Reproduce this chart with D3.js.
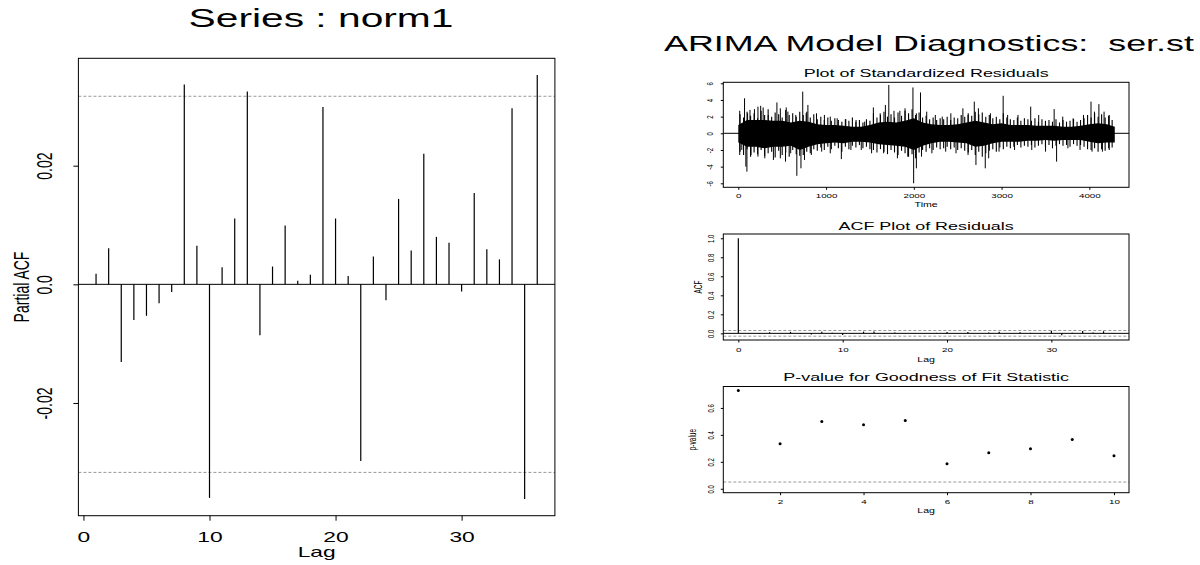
<!DOCTYPE html>
<html>
<head>
<meta charset="utf-8">
<script src="https://cdn.jsdelivr.net/npm/d3@7"></script>
<style>
body { margin: 0; background: #fff; }
svg text { font-family: "Liberation Sans", Arial, Helvetica, sans-serif; fill: #000; }
</style>
</head>
<body>
<svg id="chart" width="1200" height="565"></svg>
<script>
// ---- data ----
var pacfLags = [1, 2, 3, 4, 5, 6, 7, 8, 9, 10, 11, 12, 13, 14, 15, 16, 17, 18,
    19, 20, 21, 22, 23, 24, 25, 26, 27, 28, 29, 30, 31, 32, 33, 34, 35, 36];
var pacfValues = [0.0018, 0.0061, -0.0131, -0.0060, -0.0053, -0.0032, -0.0013, 0.0337, 0.0065,
    -0.0360, 0.0029, 0.0111, 0.0325, -0.0086, 0.0030, 0.0099, 0.0006, 0.0016,
    0.0299, 0.0111, 0.0014, -0.0298, 0.0047, -0.0027, 0.0144, 0.0057, 0.0220,
    0.0080, 0.0070, -0.0012, 0.0154, 0.0059, 0.0042, 0.0297, -0.0362, 0.0353];
var pacfBound = 0.0317;
var pacfXTicks = [0, 10, 20, 30];
var pacfYTicks = [-0.02, 0, 0.02];

// standardized residuals (about 4290 points, too dense to read one by one):
// solid core band every 100 steps, fringe highs/lows every 40 steps, and the big spikes
var residBandTime = [0, 100, 200, 300, 400, 500, 600, 700, 800, 900, 1000, 1100, 1200, 1300, 1400,
    1500, 1600, 1700, 1800, 1900, 2000, 2100, 2200, 2300, 2400, 2500, 2600, 2700, 2800, 2900,
    3000, 3100, 3200, 3300, 3400, 3500, 3600, 3700, 3800, 3900, 4000, 4100, 4200, 4290];
var residBandHi = [1.0, 1.6, 1.6, 1.6, 1.5, 1.5, 1.3, 1.5, 1.4, 1.1, 1.0, 1.0, 0.9, 0.8, 0.8,
    1.0, 1.3, 1.4, 1.3, 1.5, 1.8, 1.3, 1.1, 1.0, 1.0, 1.1, 1.3, 1.5, 1.3, 1.1,
    1.2, 1.0, 1.0, 1.0, 0.9, 0.9, 0.9, 0.8, 0.8, 0.9, 1.1, 1.2, 1.1, 0.8];
var residBandLo = [-1.1, -1.6, -1.6, -1.8, -1.6, -1.6, -1.5, -2.0, -1.6, -1.3, -1.2, -1.1, -1.2, -1.0, -1.0,
    -1.1, -1.3, -1.4, -1.5, -1.6, -2.0, -1.5, -1.2, -1.0, -1.0, -1.1, -1.2, -1.6, -1.5, -1.2,
    -1.0, -1.0, -1.0, -0.9, -0.9, -0.8, -0.9, -0.8, -0.8, -0.8, -1.0, -1.2, -1.1, -1.1];
var residFringeTime = [20, 60, 100, 140, 180, 220, 260, 300, 340, 380, 420, 460, 500, 540, 580, 620, 660, 700,
    740, 780, 820, 860, 900, 940, 980, 1020, 1060, 1100, 1140, 1180, 1220, 1260, 1300, 1340, 1380, 1420, 1460, 1500,
    1540, 1580, 1620, 1660, 1700, 1740, 1780, 1820, 1860, 1900, 1940, 1980, 2020, 2060, 2100, 2140, 2180, 2220, 2260, 2300,
    2340, 2380, 2420, 2460, 2500, 2540, 2580, 2620, 2660, 2700, 2740, 2780, 2820, 2860, 2900, 2940, 2980, 3020, 3060, 3100,
    3140, 3180, 3220, 3260, 3300, 3340, 3380, 3420, 3460, 3500, 3540, 3580, 3620, 3660, 3700, 3740, 3780, 3820, 3860, 3900,
    3940, 3980, 4020, 4060, 4100, 4140, 4180, 4220, 4260];
var residFringeHi = [2.3, 1.9, 2.6, 2.1, 2.4, 1.8, 2.7, 2.2, 2.9, 2.0, 2.5, 2.3, 1.9, 2.8, 2.2, 2.4, 2.0, 2.6,
    2.2, 2.6, 1.9, 2.3, 1.7, 2.0, 1.6, 1.9, 1.5, 1.8, 1.6, 1.4, 1.7, 1.5, 1.9, 1.4, 1.6, 1.3, 1.7, 1.5,
    2.4, 1.9, 2.2, 2.6, 2.0, 2.3, 1.9, 2.5, 2.1, 2.7, 2.4, 2.9, 2.2, 2.5, 1.9, 2.1, 1.7, 1.9, 1.6, 1.8,
    1.7, 2.0, 1.6, 1.9, 1.8, 2.2, 2.0, 2.4, 2.1, 2.6, 2.3, 2.5, 2.0, 2.2, 1.8, 2.0, 1.7, 2.4, 1.9, 1.7,
    1.6, 1.9, 1.5, 1.8, 1.7, 1.5, 1.8, 1.4, 1.7, 1.5, 1.6, 1.4, 1.7, 1.3, 1.6, 1.4, 1.5, 1.7, 1.4, 1.6,
    1.8, 2.2, 1.9, 2.4, 2.0, 2.3, 1.9, 2.1, 1.6];
var residFringeLo = [-2.2, -2.6, -1.9, -2.8, -2.3, -2.5, -2.0, -2.7, -2.4, -2.2, -2.9, -2.1, -2.6, -2.3, -2.8, -2.0, -2.5, -2.7,
    -2.6, -2.2, -2.4, -1.9, -2.1, -1.7, -2.0, -1.6, -1.9, -1.5, -1.8, -2.2, -1.6, -1.9, -1.5, -1.7, -1.4, -1.8, -1.6, -1.9,
    -2.0, -2.3, -1.9, -2.2, -2.5, -2.0, -2.3, -2.6, -2.1, -2.4, -2.8, -2.5, -3.0, -2.3, -2.0, -2.2, -1.8, -2.0, -1.7, -1.9,
    -1.8, -1.6, -1.9, -1.7, -2.0, -1.8, -2.1, -2.3, -2.0, -2.6, -2.2, -2.8, -2.4, -2.1, -1.9, -2.2, -1.7, -1.9, -1.6, -1.8,
    -1.6, -1.4, -1.7, -1.5, -1.6, -1.4, -1.7, -1.5, -1.3, -1.6, -1.4, -1.8, -1.5, -1.3, -1.5, -1.4, -1.6, -1.3, -1.5, -1.4,
    -1.6, -1.9, -2.0, -1.8, -2.2, -1.9, -2.1, -1.8, -1.7];
var residSpikeTime = [16, 71, 106, 133, 184, 224, 255, 283, 341, 440, 479, 546, 565, 655, 734, 773,
    793, 891, 981, 1048, 1127, 1225, 1342, 1440, 1539, 1617, 1676, 1715, 1774, 1841, 1900, 1990,
    2029, 2076, 2147, 2245, 2324, 2422, 2559, 2618, 2689, 2736, 2873, 3018, 3069, 3187, 3332,
    3423, 3599, 3697, 3815, 3933, 4019, 4058, 4109, 4168, 4227,
    16, 40, 86, 98, 145, 224, 302, 400, 479, 538, 597, 667, 714, 754, 832, 950, 1048, 1174,
    1283, 1401, 1519, 1656, 1813, 1931, 1998, 2029, 2088, 2206, 2363, 2481, 2618, 2708, 2814,
    2853, 2971, 3148, 3344, 3501, 3627, 3756, 3894, 4031, 4149, 4227];
var residSpikeValue = [2.7, 4.2, 2.4, 2.8, 2.9, 3.2, 3.3, 3.1, 2.2, 3.7, 3.0, 3.1, 2.6, 2.2, 5.0, 2.4,
    3.4, 2.4, 2.2, 2.0, 1.8, 1.7, 1.6, 1.4, 3.1, 2.4, 3.4, 5.8, 2.7, 2.7, 3.0, 5.5,
    2.4, 4.9, 2.6, 2.2, 2.0, 2.4, 3.0, 2.2, 3.8, 3.0, 2.4, 4.5, 2.2, 2.2, 3.2,
    2.2, 2.9, 2.0, 1.8, 2.2, 3.8, 2.6, 3.5, 2.6, 2.2,
    -2.6, -2.0, -4.0, -4.6, -2.6, -2.8, -3.0, -3.2, -3.0, -3.4, -2.4, -5.1, -4.2, -3.2, -2.6, -2.2, -2.4, -3.1,
    -2.0, -2.0, -2.4, -2.4, -3.0, -2.8, -6.0, -4.2, -2.8, -2.4, -2.2, -2.4, -2.6, -3.8, -4.2,
    -3.0, -2.2, -2.0, -2.0, -2.2, -3.4, -1.8, -2.0, -2.2, -2.2, -2.0];
var residXTicks = [0, 1000, 2000, 3000, 4000];
var residYTicks = [-6, -4, -2, 0, 2, 4, 6];

var acfLags = [0, 1, 2, 3, 4, 5, 6, 7, 8, 9, 10, 11, 12, 13, 14, 15, 16, 17, 18,
    19, 20, 21, 22, 23, 24, 25, 26, 27, 28, 29, 30, 31, 32, 33, 34, 35, 36];
var acfValues = [1, 0.003, -0.005, 0.012, 0.004, 0.015, -0.004, -0.013, 0.016, 0.006, -0.018,
    0.003, 0.018, 0.019, -0.003, 0.008, 0.004, -0.004, 0.002, 0.005, 0.014, -0.002, 0.013,
    0.002, 0.010, 0.016, 0.002, 0.012, 0.005, -0.005, 0.026, -0.021, 0.006, 0.024, 0.009, 0.022, 0.004];
var acfBound = 0.030;
var acfXTicks = [0, 10, 20, 30];
var acfYTicks = [0, 0.2, 0.4, 0.6, 0.8, 1.0];

var pvalLags = [1, 2, 3, 4, 5, 6, 7, 8, 9, 10];
var pvalValues = [0.729, 0.335, 0.499, 0.476, 0.506, 0.186, 0.268, 0.298, 0.365, 0.246];
var pvalLevel = 0.05;
var pvalXTicks = [2, 4, 6, 8, 10];
var pvalYTicks = [0, 0.2, 0.4, 0.6];

// the original output is stretched sideways, so text gets the same stretch
var SX = 1.63;
var svg = d3.select('#chart');

function label(g, x, y, s, size, rotate, anchor) {
    return g.append('text')
        .attr('transform', `translate(${x},${y}) scale(${SX},1)` + (rotate ? ` rotate(${rotate})` : ''))
        .attr('text-anchor', anchor || 'middle')
        .style('font-size', size + 'px')
        .style('white-space', 'pre')
        .text(s);
}

// draws box, axes and tick labels for one panel
function frame(x, y, o) {
    var x0 = x.range()[0], x1 = x.range()[1], y0 = y.range()[0], y1 = y.range()[1];

    var ax = svg.append('g')
        .attr('transform', `translate(0,${y0})`)
        .call(d3.axisBottom(x).tickValues(o.xTicks).tickSize(o.tick).tickSizeOuter(0).tickFormat(o.xFmt || (d => d)));
    ax.select('.domain').remove();
    ax.selectAll('text')
        .attr('y', o.xLabelY).attr('dy', null)
        .attr('transform', `scale(${SX},1)`)
        .style('font-size', o.tickFont + 'px');

    var ay = svg.append('g')
        .attr('transform', `translate(${x0},0)`)
        .call(d3.axisLeft(y).tickValues(o.yTicks).tickSize(o.tick).tickSizeOuter(0).tickFormat(o.yFmt));
    ay.select('.domain').remove();
    ay.selectAll('text')
        .attr('x', null).attr('dy', null)
        .attr('text-anchor', 'middle')
        .attr('transform', `translate(${-o.yLabelX},0) scale(${SX},1) rotate(-90)`)
        .style('font-size', o.tickFont + 'px');

    svg.append('rect')
        .attr('x', x0).attr('y', y1)
        .attr('width', x1 - x0).attr('height', y0 - y1)
        .attr('fill', 'none').attr('stroke', '#000').attr('stroke-width', 1);

    var cx = (x0 + x1) / 2;
    if (o.title) label(svg, o.titleX || cx, o.titleY, o.title, o.titleFont);
    if (o.xTitle) label(svg, cx, o.xTitleY, o.xTitle, o.axisFont);
    if (o.yTitle) label(svg, o.yTitleX, (y0 + y1) / 2, o.yTitle, o.axisFont, -90);
}

function hline(x, y, v, dashed) {
    svg.append('line')
        .attr('x1', x.range()[0]).attr('x2', x.range()[1])
        .attr('y1', y(v)).attr('y2', y(v))
        .attr('stroke', dashed ? '#999' : '#000')
        .attr('stroke-width', 1)
        .attr('stroke-dasharray', dashed ? '3,2' : null);
}

function spikes(x, y, ts, vs, width) {
    svg.append('g').selectAll('line')
        .data(ts)
        .enter()
        .append('line')
        .attr('x1', d => x(d)).attr('x2', d => x(d))
        .attr('y1', y(0))
        .attr('y2', (d, i) => y(vs[i]))
        .attr('stroke', '#000').attr('stroke-width', width);
}

// ---- left: partial ACF ----
var xL = d3.scaleLinear().domain([-0.4, 37.4]).range([78.4, 554.9]);
var yL = d3.scaleLinear().domain([-0.0390, 0.0381]).range([515.7, 58.3]);

hline(xL, yL, pacfBound, true);
hline(xL, yL, -pacfBound, true);
spikes(xL, yL, pacfLags, pacfValues, 1.2);
hline(xL, yL, 0, false);

frame(xL, yL, {
    xTicks: pacfXTicks, yTicks: pacfYTicks,
    yFmt: d => d === 0 ? '0.0' : d.toFixed(2),
    tick: 5, tickFont: 14, xLabelY: 26.3, yLabelX: 26.7,
    title: 'Series : norm1', titleX: 321, titleY: 27.3, titleFont: 25,
    xTitle: 'Lag', xTitleY: 557, axisFont: 14,
    yTitle: 'Partial ACF', yTitleX: 28.5
});

// ---- right: title ----
label(svg, 664, 51, 'ARIMA Model Diagnostics:  ser.st', 22, 0, 'start');

// ---- right 1: standardized residuals ----
var xR = d3.scaleLinear().domain([-171, 4452]).range([723.3, 1129]);
var yR = d3.scaleLinear().domain([-6.48, 6.12]).range([187.3, 82.3]);

svg.append('path')
    .datum(residBandTime)
    .attr('d', d3.area()
        .x(d => xR(d))
        .y0((d, i) => yR(residBandLo[i]))
        .y1((d, i) => yR(residBandHi[i])))
    .attr('fill', '#000');

spikes(xR, yR, residFringeTime, residFringeHi, 1.1);
spikes(xR, yR, residFringeTime, residFringeLo, 1.1);
spikes(xR, yR, residSpikeTime, residSpikeValue, 1);
hline(xR, yR, 0, false);

frame(xR, yR, {
    xTicks: residXTicks, yTicks: residYTicks,
    yFmt: d => String(d),
    tick: 2.5, tickFont: 6, xLabelY: 11, yLabelX: 10,
    title: 'Plot of Standardized Residuals', titleY: 77.3, titleFont: 11,
    xTitle: 'Time', xTitleY: 207, axisFont: 6.5
});

// ---- right 2: ACF of residuals ----
var xA = d3.scaleLinear().domain([-1.44, 37.44]).range([723.3, 1129]);
var yA = d3.scaleLinear().domain([-0.07, 1.045]).range([340, 234]);

hline(xA, yA, acfBound, true);
hline(xA, yA, -acfBound, true);
spikes(xA, yA, acfLags, acfValues, 1.2);
hline(xA, yA, 0, false);

frame(xA, yA, {
    xTicks: acfXTicks, yTicks: acfYTicks,
    yFmt: d3.format('.1f'),
    tick: 2.5, tickFont: 6, xLabelY: 12, yLabelX: 9.5,
    title: 'ACF Plot of Residuals', titleY: 230, titleFont: 11,
    xTitle: 'Lag', xTitleY: 361.5, axisFont: 6.5,
    yTitle: 'ACF', yTitleX: 701.5
});

// ---- right 3: p-values ----
var xP = d3.scaleLinear().domain([0.64, 10.36]).range([723.3, 1129]);
var yP = d3.scaleLinear().domain([-0.0292, 0.7592]).range([492.7, 386.5]);

hline(xP, yP, pvalLevel, true);

svg.append('g').selectAll('circle')
    .data(pvalLags)
    .enter()
    .append('circle')
    .attr('cx', d => xP(d))
    .attr('cy', (d, i) => yP(pvalValues[i]))
    .attr('r', 1.5)
    .attr('fill', '#000');

frame(xP, yP, {
    xTicks: pvalXTicks, yTicks: pvalYTicks,
    yFmt: d3.format('.1f'),
    tick: 2.5, tickFont: 6, xLabelY: 11.3, yLabelX: 9.5,
    title: 'P-value for Goodness of Fit Statistic', titleY: 381, titleFont: 11,
    xTitle: 'Lag', xTitleY: 513, axisFont: 6.5,
    yTitle: 'p-value', yTitleX: 696.4
});
</script>
</body>
</html>
